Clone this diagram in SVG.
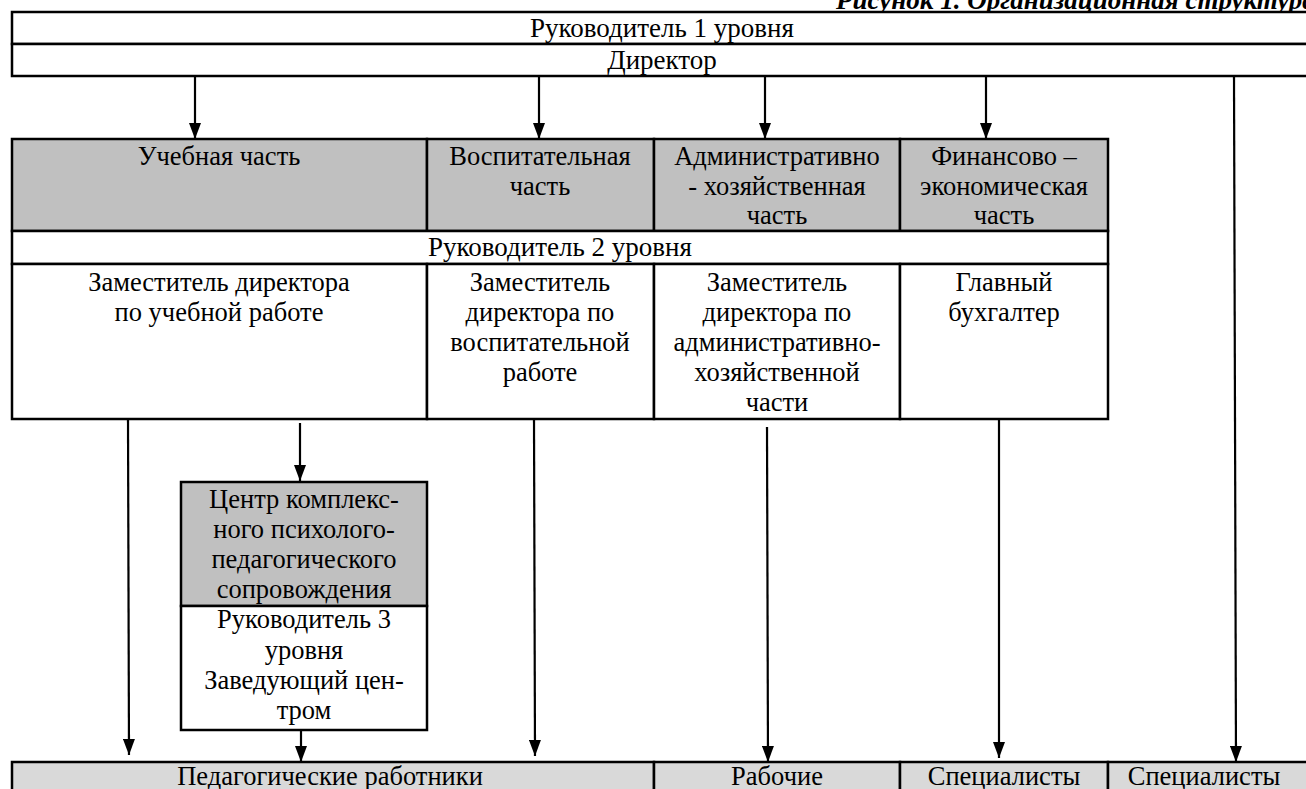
<svg xmlns="http://www.w3.org/2000/svg" width="1306" height="789" viewBox="0 0 1306 789" font-family="'Liberation Serif', 'DejaVu Serif', serif">
<defs>
<style>
text{font-family:'Liberation Serif','DejaVu Serif',serif;font-size:26.5px;fill:#000;text-anchor:middle}
.top{font-size:27px}
.title{font-weight:bold;font-style:italic;font-size:27px;text-anchor:start}
.g{fill:#c0c0c0;stroke:#000;stroke-width:2.5}
.lg{fill:#d9d9d9;stroke:#000;stroke-width:2.5}
.w{fill:#fff;stroke:#000;stroke-width:2.5}
.c{stroke:#000;stroke-width:2.2;fill:none;marker-end:url(#ah)}
</style>
<marker id="ah" markerUnits="userSpaceOnUse" markerWidth="17" markerHeight="12" refX="16" refY="6" orient="auto" viewBox="0 0 17 12">
<path d="M0,0 L16,6 L0,12 z" fill="#000"/>
</marker>
</defs>
<rect width="1306" height="789" fill="#fff"/>
<text class="title" x="836" y="9">Рисунок 1. Организационная структура</text>

<g id="level1">
<rect class="w" x="12" y="12" width="1300" height="32"/>
<text class="top" x="662" y="37">Руководитель 1 уровня</text>
</g>
<g id="director">
<rect class="w" x="12" y="44" width="1300" height="32"/>
<text class="top" x="662" y="69">Директор</text>
</g>

<g id="dept-ucheb">
<rect class="g" x="12" y="139" width="415" height="92"/>
<text x="219" y="165">Учебная часть</text>
</g>
<g id="dept-vosp">
<rect class="g" x="427" y="139" width="227" height="92"/>
<text x="540" y="165">Воспитательная</text>
<text x="540" y="195">часть</text>
</g>
<g id="dept-admin">
<rect class="g" x="654" y="139" width="246" height="92"/>
<text x="777" y="165">Административно</text>
<text x="777" y="195">- хозяйственная</text>
<text x="777" y="224">часть</text>
</g>
<g id="dept-fin">
<rect class="g" x="900" y="139" width="208" height="92"/>
<text x="1004" y="165">Финансово –</text>
<text x="1004" y="195">экономическая</text>
<text x="1004" y="224">часть</text>
</g>

<g id="level2">
<rect class="w" x="12" y="231" width="1096" height="33"/>
<text class="top" x="560" y="256">Руководитель 2 уровня</text>
</g>

<g id="zam-ucheb">
<rect class="w" x="12" y="264" width="415" height="155"/>
<text x="219" y="291">Заместитель директора</text>
<text x="219" y="321">по учебной работе</text>
</g>
<g id="zam-vosp">
<rect class="w" x="427" y="264" width="227" height="155"/>
<text x="540" y="291">Заместитель</text>
<text x="540" y="321">директора по</text>
<text x="540" y="351">воспитательной</text>
<text x="540" y="381">работе</text>
</g>
<g id="zam-admin">
<rect class="w" x="654" y="264" width="246" height="155"/>
<text x="777" y="291">Заместитель</text>
<text x="777" y="321">директора по</text>
<text x="777" y="351">административно-</text>
<text x="777" y="381">хозяйственной</text>
<text x="777" y="411">части</text>
</g>
<g id="glavbuh">
<rect class="w" x="900" y="264" width="208" height="155"/>
<text x="1004" y="291">Главный</text>
<text x="1004" y="321">бухгалтер</text>
</g>

<g id="center">
<rect class="g" x="181" y="482" width="246" height="124"/>
<text x="304" y="508">Центр комплекс-</text>
<text x="304" y="538">ного психолого-</text>
<text x="304" y="568">педагогического</text>
<text x="304" y="598">сопровождения</text>
</g>
<g id="center-head">
<rect class="w" x="181" y="606" width="246" height="124"/>
<text x="304" y="628">Руководитель 3</text>
<text x="304" y="659">уровня</text>
<text x="304" y="689">Заведующий цен-</text>
<text x="304" y="719">тром</text>
</g>

<g id="ped">
<rect class="lg" x="12" y="762" width="642" height="40"/>
<text x="330" y="785">Педагогические работники</text>
</g>
<g id="rab">
<rect class="lg" x="654" y="762" width="246" height="40"/>
<text x="777" y="785">Рабочие</text>
</g>
<g id="spec1">
<rect class="lg" x="900" y="762" width="208" height="40"/>
<text x="1004" y="785">Специалисты</text>
</g>
<g id="spec2">
<rect class="lg" x="1108" y="762" width="220" height="40"/>
<text x="1204" y="785">Специалисты</text>
</g>

<g id="connectors">
<line class="c" x1="195" y1="77" x2="195" y2="139"/>
<line class="c" x1="539" y1="77" x2="539" y2="139"/>
<line class="c" x1="765" y1="77" x2="765" y2="139"/>
<line class="c" x1="986" y1="77" x2="986" y2="139"/>
<line class="c" x1="1234" y1="77" x2="1236" y2="762"/>
<line class="c" x1="128" y1="420" x2="129" y2="755"/>
<line class="c" x1="300" y1="423" x2="300" y2="481"/>
<line class="c" x1="534" y1="420" x2="535" y2="756"/>
<line class="c" x1="767" y1="427" x2="768" y2="762"/>
<line class="c" x1="999" y1="420" x2="999" y2="758"/>
<line class="c" x1="301" y1="731" x2="301" y2="762"/>
</g>
</svg>
